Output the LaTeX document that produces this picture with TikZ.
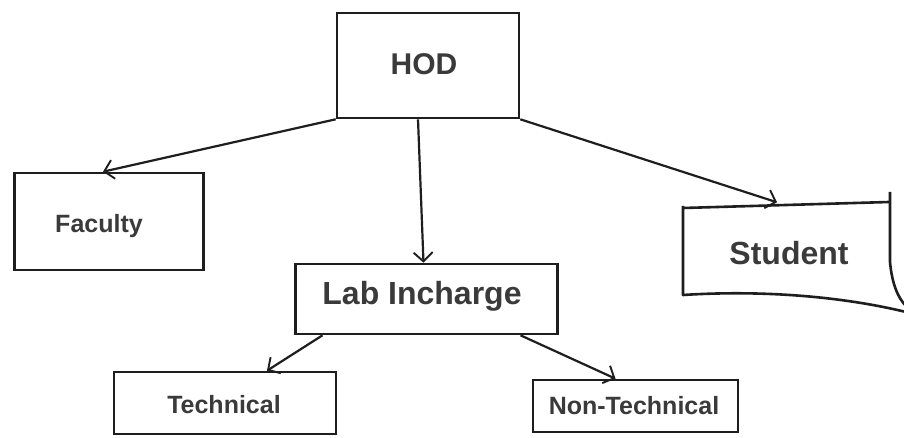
\documentclass[tikz,border=0pt]{standalone}
\usepackage{fontspec}
\setmainfont{Liberation Sans}
\usetikzlibrary{arrows.meta}
\definecolor{ink}{HTML}{1E1E1E}
\definecolor{txt}{HTML}{3A3A3A}
\begin{document}
\begin{tikzpicture}[x=1pt,y=-1pt,
  box/.style={draw=ink,line width=2.6pt,rectangle,inner sep=0pt},
  lbl/.style={text=txt,font=\bfseries,inner sep=0pt},
  conn/.style={draw=ink,line width=2.2pt,-{Straight Barb[length=9pt,width=19pt,line width=1.9pt]}}]
\fill[white] (0,0) rectangle (904,438);
\useasboundingbox (0,0) rectangle (904,438);
\clip (0,0) rectangle (904,438);
% boxes
\node[box,minimum width=182pt,minimum height=105pt] (hodbox) at (428,65.5) {};
\node[box,minimum width=189pt,minimum height=97pt] (facbox) at (109,221.5) {};
\node[draw=none,minimum width=207pt,minimum height=93pt,inner sep=0pt] (stubox) at (786,249) {};
\node[box,minimum width=262pt,minimum height=70pt] (labbox) at (426.5,299) {};
\node[box,minimum width=222pt,minimum height=62pt] (techbox) at (225,403) {};
\node[box,minimum width=205pt,minimum height=52pt] (ntbox) at (635.5,406) {};
% student irregular outline
\draw[ink,line width=2.6pt,line join=round]
  (683,208) -- (889,202);
\draw[ink,line width=2.6pt,line join=round]
  (683,206) -- (683,295) .. controls (760,290) and (840,296) .. (906,312);
\draw[ink,line width=2.6pt]
  (890,192) -- (890,262) .. controls (892,284) and (898,298) .. (906,306);
% labels
\node[lbl,font=\bfseries\fontsize{30}{32}\selectfont] (hod) at (424,64) {HOD};
\node[lbl,font=\bfseries\fontsize{25}{27}\selectfont] (fac) at (99,226) {Faculty};
\node[lbl,font=\bfseries\fontsize{32}{34}\selectfont] (stu) at (789,253) {Student};
\node[lbl,font=\bfseries\fontsize{32}{34}\selectfont] (lab) at (422,296) {Lab Incharge};
\node[lbl,font=\bfseries\fontsize{25}{27}\selectfont] (tech) at (224,405) {Technical};
\node[lbl,font=\bfseries\fontsize{25}{27}\selectfont] (nt) at (634,406) {Non-Technical};
% connectors
\draw[conn] (hodbox.south west) -- ([xshift=-6pt]facbox.north);
\draw[conn] ([xshift=-10pt]hodbox.south) -- ([xshift=-3pt]labbox.north);
\draw[conn] (hodbox.south east) -- ([xshift=-9pt]stubox.north);
\draw[conn] ([xshift=-104pt]labbox.south) -- ([xshift=42pt]techbox.north);
\draw[conn] ([xshift=94pt]labbox.south) -- ([xshift=-20pt]ntbox.north);
\end{tikzpicture}
\end{document}
